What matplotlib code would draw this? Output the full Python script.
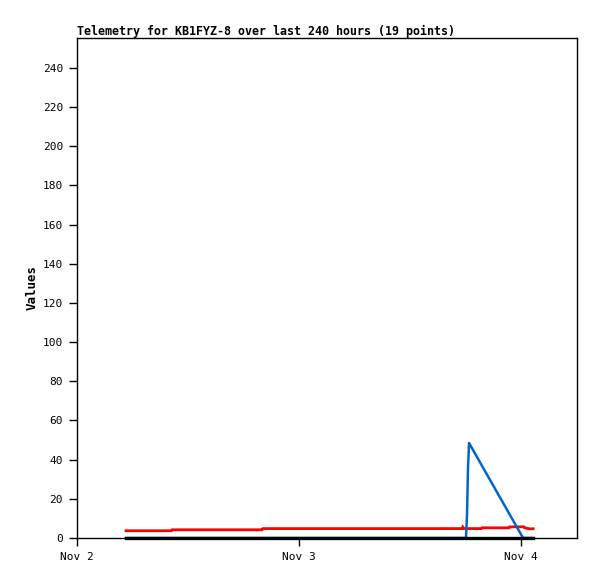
import matplotlib
matplotlib.use("Agg")
import matplotlib.pyplot as plt

# hours since Nov 2 00:00
red_t = [5.3, 10.2, 10.3, 20.0, 20.1, 41.6, 41.7, 41.8, 43.7, 43.8, 46.7, 46.8, 48.3, 48.4, 48.9, 49.3]
red_v = [3.7, 3.7, 4.2, 4.2, 4.8, 4.8, 5.6, 4.8, 4.8, 5.2, 5.2, 5.7, 5.7, 5.2, 4.7, 4.7]
blue_t = [5.3, 42.05, 42.16, 42.27, 42.38, 48.22, 49.3]
blue_v = [0, 0, 12, 36, 48.5, 0, 0]
black_t = [5.3, 49.3]
black_v = [0, 0]

xtick_pos = [0, 24, 48]
xtick_labels = ["Nov 2", "Nov 3", "Nov 4"]
ytick_pos = list(range(0, 241, 20))

fig = plt.figure(figsize=(5.97, 5.79), dpi=100)
ax = fig.add_axes([77/597, 1-538/579, 500/597, 500/579])

mono = "DejaVu Sans Mono"
ax.plot(red_t, red_v, color="#ff0000", lw=2.0, solid_joinstyle="miter", zorder=3)
ax.plot(blue_t, blue_v, color="#0066cc", lw=1.8, zorder=3, clip_on=False)
ax.plot(black_t, black_v, color="#000000", lw=2.4, zorder=4, clip_on=False)

ax.set_xlim(0, 54.05)
ax.set_ylim(0, 255.3)
ax.set_xticks(xtick_pos)
ax.set_xticklabels(xtick_labels, fontfamily=mono, fontsize=8)
ax.set_yticks(ytick_pos)
ax.set_yticklabels([str(v) for v in ytick_pos], fontfamily=mono, fontsize=8)
ax.tick_params(direction="out", length=6, width=1, pad=4)
for s in ax.spines.values():
    s.set_linewidth(1)

ax.set_ylabel("Values", fontfamily=mono, fontweight="bold", fontsize=9, labelpad=3)
ax.set_title("Telemetry for KB1FYZ-8 over last 240 hours (19 points)",
             fontfamily=mono, fontweight="bold", fontsize=8.35, loc="left", pad=2)

fig.savefig("out.png", dpi=100)
